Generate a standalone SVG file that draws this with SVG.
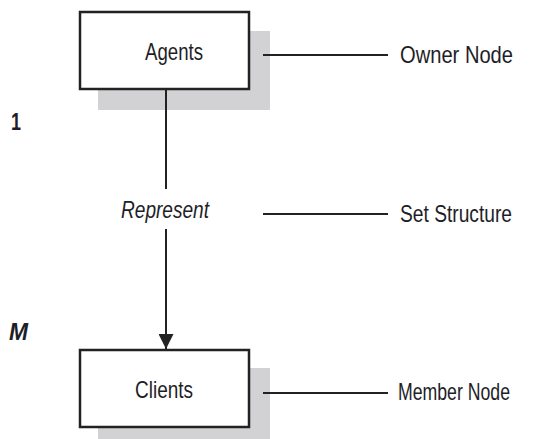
<svg xmlns="http://www.w3.org/2000/svg" width="549" height="439" viewBox="0 0 549 439">
<style>
.shadow{fill:#d2d2d4;stroke:none}
.box{fill:#fff;stroke:#222;stroke-width:2.5}
.ln{stroke:#222;stroke-width:2;fill:none}
.t{font-family:"Liberation Sans",Arial,sans-serif;font-size:24px;fill:#1e1e28}
.b{font-weight:bold}
.i{font-style:italic}
</style>
<defs>
<marker id="ah" markerWidth="15" markerHeight="15" refX="15" refY="7.5" orient="auto" markerUnits="userSpaceOnUse">
<path d="M0,0 L15,7.5 L0,15 Z" fill="#222"/>
</marker>
</defs>
<rect width="549" height="439" fill="#fff"/>
<g id="agents">
<rect class="shadow" x="98" y="31" width="172" height="79"/>
<rect class="box" x="80" y="12" width="169" height="77"/>
<text class="t" x="145" y="60" textLength="58" lengthAdjust="spacingAndGlyphs">Agents</text>
</g>
<g id="clients">
<rect class="shadow" x="98" y="368" width="172" height="79"/>
<rect class="box" x="80" y="350" width="169" height="77"/>
<text class="t" x="135" y="398" textLength="58" lengthAdjust="spacingAndGlyphs">Clients</text>
</g>
<g id="labels">
<text class="t" x="400" y="63" textLength="113" lengthAdjust="spacingAndGlyphs">Owner Node</text>
<text class="t" x="400" y="222" textLength="112" lengthAdjust="spacingAndGlyphs">Set Structure</text>
<text class="t" x="398" y="400" textLength="112" lengthAdjust="spacingAndGlyphs">Member Node</text>
<text class="t i" x="121" y="218" textLength="88" lengthAdjust="spacingAndGlyphs">Represent</text>
<text class="t b" x="11" y="130" textLength="10" lengthAdjust="spacingAndGlyphs">1</text>
<text class="t b i" x="9" y="340" textLength="19" lengthAdjust="spacingAndGlyphs">M</text>
</g>
<g id="connectors">
<line class="ln" x1="166" y1="89" x2="166" y2="189"/>
<line class="ln" x1="166" y1="229" x2="166" y2="349" marker-end="url(#ah)"/>
<line class="ln" x1="263" y1="55" x2="388" y2="55"/>
<line class="ln" x1="263" y1="214" x2="388" y2="214"/>
<line class="ln" x1="263" y1="393" x2="388" y2="393"/>
</g>
</svg>
